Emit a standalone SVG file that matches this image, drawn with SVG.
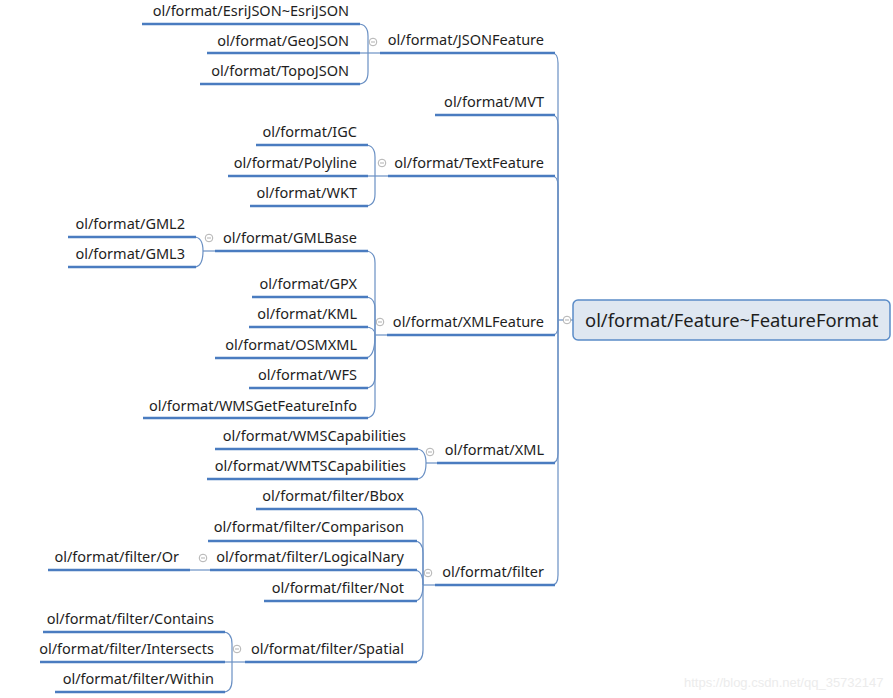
<svg xmlns="http://www.w3.org/2000/svg" width="893" height="698" viewBox="0 0 893 698">
<style>
.t{font-family:"Noto Sans","Open Sans","DejaVu Sans",sans-serif;font-size:14.5px;fill:#1e1e1e;text-anchor:end}
.u{stroke:#4a7cc0;stroke-width:2.6;fill:none;stroke-linecap:butt}
.c{stroke:#6a90c4;stroke-width:1.2;fill:none}
.k{fill:#fff;stroke:#a8a8a8;stroke-width:0.9}
.km{stroke:#a8a8a8;stroke-width:0.9}
.root{fill:#dfe7f1;stroke:#5b8cc8;stroke-width:1.5}
.rt{font-family:"Noto Sans","Open Sans","DejaVu Sans",sans-serif;font-size:18.4px;fill:#1e1e1e}
.wm{font-family:"Liberation Sans",Arial,sans-serif;font-size:13px;fill:#ececec}
</style>
<defs>
<g id="col"><circle r="3.8" class="k"/><line x1="-2" y1="0" x2="2" y2="0" class="km"/></g>
</defs>
<rect width="893" height="698" fill="#fff"/>
<g id="connectors">
<!-- root -->
<path class="c" d="M558 320 H573"/>
<path class="c" d="M558 320 V63 Q558 53 552 53"/>
<path class="c" d="M558 320 V125 Q558 115 552 115"/>
<path class="c" d="M558 320 V186 Q558 176 552 176"/>
<path class="c" d="M558 320 V327 Q558 335 552 335"/>
<path class="c" d="M558 320 V453 Q558 463 552 463"/>
<path class="c" d="M558 320 V575 Q558 585 552 585"/>
<!-- JSONFeature -->
<path class="c" d="M360 53 H380"/>
<path class="c" d="M368 53 V36 Q368 24 358 24"/>
<path class="c" d="M368 53 V72 Q368 84 358 84"/>
<!-- TextFeature -->
<path class="c" d="M368 176 H388"/>
<path class="c" d="M375 176 V157 Q375 145 365 145"/>
<path class="c" d="M375 176 V194 Q375 206 365 206"/>
<!-- XMLFeature -->
<path class="c" d="M375 335 H387"/>
<path class="c" d="M375 335 V263 Q375 251 365 251"/>
<path class="c" d="M375 335 V309 Q375 297 365 297"/>
<path class="c" d="M375 335 Q375 327 365 327"/>
<path class="c" d="M375 335 Q375 358 365 358"/>
<path class="c" d="M375 335 V376 Q375 388 365 388"/>
<path class="c" d="M375 335 V406 Q375 418 365 418"/>
<!-- GMLBase -->
<path class="c" d="M203 251 H215"/>
<path class="c" d="M203 251 Q203 237 194 237"/>
<path class="c" d="M203 251 Q203 267 194 267"/>
<!-- XML -->
<path class="c" d="M426 463 H437"/>
<path class="c" d="M426 463 Q426 449 416 449"/>
<path class="c" d="M426 463 Q426 479 416 479"/>
<!-- filter -->
<path class="c" d="M423 585 H435"/>
<path class="c" d="M423 585 V521 Q423 509 414 509"/>
<path class="c" d="M423 585 V553 Q423 541 414 541"/>
<path class="c" d="M423 585 Q423 570 414 570"/>
<path class="c" d="M423 585 Q423 601 414 601"/>
<path class="c" d="M423 585 V650 Q423 662 414 662"/>
<!-- LogicalNary -->
<path class="c" d="M190 570 H210"/>
<!-- Spatial -->
<path class="c" d="M225 662 H245"/>
<path class="c" d="M232 662 V644 Q232 632 223 632"/>
<path class="c" d="M232 662 V680 Q232 692 223 692"/>
</g>

<g id="root">
<rect class="root" x="573" y="300" width="317" height="40" rx="5"/>
<text class="rt" x="585" y="327">ol/format/Feature~FeatureFormat</text>
<use href="#col" x="567" y="320"/>
</g>

<g id="n-JSONFeature"><line class="u" x1="380" y1="53" x2="555" y2="53"/><text class="t" x="544" y="45">ol/format/JSONFeature</text><use href="#col" x="373" y="42"/></g>
<g id="n-MVT"><line class="u" x1="435" y1="115" x2="555" y2="115"/><text class="t" x="544" y="107">ol/format/MVT</text></g>
<g id="n-TextFeature"><line class="u" x1="388" y1="176" x2="555" y2="176"/><text class="t" x="544" y="168">ol/format/TextFeature</text><use href="#col" x="382" y="163"/></g>
<g id="n-XMLFeature"><line class="u" x1="387" y1="335" x2="555" y2="335"/><text class="t" x="544" y="327">ol/format/XMLFeature</text><use href="#col" x="380" y="322"/></g>
<g id="n-XML"><line class="u" x1="437" y1="463" x2="555" y2="463"/><text class="t" x="544" y="455">ol/format/XML</text><use href="#col" x="430" y="452"/></g>
<g id="n-filter"><line class="u" x1="435" y1="585" x2="555" y2="585"/><text class="t" x="544" y="577">ol/format/filter</text><use href="#col" x="428" y="573"/></g>

<g id="n-EsriJSON"><line class="u" x1="142" y1="24" x2="360" y2="24"/><text class="t" x="349" y="16">ol/format/EsriJSON~EsriJSON</text></g>
<g id="n-GeoJSON"><line class="u" x1="207" y1="53" x2="360" y2="53"/><text class="t" x="349" y="46">ol/format/GeoJSON</text></g>
<g id="n-TopoJSON"><line class="u" x1="200" y1="84" x2="360" y2="84"/><text class="t" x="349" y="76">ol/format/TopoJSON</text></g>

<g id="n-IGC"><line class="u" x1="256" y1="145" x2="368" y2="145"/><text class="t" x="357" y="137">ol/format/IGC</text></g>
<g id="n-Polyline"><line class="u" x1="228" y1="176" x2="368" y2="176"/><text class="t" x="357" y="168">ol/format/Polyline</text></g>
<g id="n-WKT"><line class="u" x1="250" y1="206" x2="368" y2="206"/><text class="t" x="357" y="198">ol/format/WKT</text></g>

<g id="n-GMLBase"><line class="u" x1="215" y1="251" x2="368" y2="251"/><text class="t" x="357" y="243">ol/format/GMLBase</text><use href="#col" x="209" y="238"/></g>
<g id="n-GPX"><line class="u" x1="252" y1="297" x2="368" y2="297"/><text class="t" x="357" y="289">ol/format/GPX</text></g>
<g id="n-KML"><line class="u" x1="249" y1="327" x2="368" y2="327"/><text class="t" x="357" y="319">ol/format/KML</text></g>
<g id="n-OSMXML"><line class="u" x1="215" y1="358" x2="368" y2="358"/><text class="t" x="357" y="350">ol/format/OSMXML</text></g>
<g id="n-WFS"><line class="u" x1="249" y1="388" x2="368" y2="388"/><text class="t" x="357" y="380">ol/format/WFS</text></g>
<g id="n-WMSGetFeatureInfo"><line class="u" x1="143" y1="418" x2="368" y2="418"/><text class="t" x="357" y="411">ol/format/WMSGetFeatureInfo</text></g>

<g id="n-GML2"><line class="u" x1="68" y1="237" x2="196" y2="237"/><text class="t" x="185" y="229">ol/format/GML2</text></g>
<g id="n-GML3"><line class="u" x1="68" y1="267" x2="196" y2="267"/><text class="t" x="185" y="259">ol/format/GML3</text></g>

<g id="n-WMSCapabilities"><line class="u" x1="215" y1="449" x2="418" y2="449"/><text class="t" x="406" y="441">ol/format/WMSCapabilities</text></g>
<g id="n-WMTSCapabilities"><line class="u" x1="207" y1="479" x2="418" y2="479"/><text class="t" x="406" y="471">ol/format/WMTSCapabilities</text></g>

<g id="n-Bbox"><line class="u" x1="256" y1="509" x2="417" y2="509"/><text class="t" x="404" y="501">ol/format/filter/Bbox</text></g>
<g id="n-Comparison"><line class="u" x1="208" y1="541" x2="417" y2="541"/><text class="t" x="404" y="532">ol/format/filter/Comparison</text></g>
<g id="n-LogicalNary"><line class="u" x1="210" y1="570" x2="417" y2="570"/><text class="t" x="404" y="562">ol/format/filter/LogicalNary</text><use href="#col" x="203" y="558"/></g>
<g id="n-Not"><line class="u" x1="264" y1="601" x2="417" y2="601"/><text class="t" x="404" y="593">ol/format/filter/Not</text></g>
<g id="n-Spatial"><line class="u" x1="245" y1="662" x2="417" y2="662"/><text class="t" x="404" y="654">ol/format/filter/Spatial</text><use href="#col" x="237" y="649"/></g>

<g id="n-Or"><line class="u" x1="48" y1="570" x2="190" y2="570"/><text class="t" x="179" y="562">ol/format/filter/Or</text></g>

<g id="n-Contains"><line class="u" x1="43" y1="632" x2="225" y2="632"/><text class="t" x="214" y="624">ol/format/filter/Contains</text></g>
<g id="n-Intersects"><line class="u" x1="40" y1="662" x2="225" y2="662"/><text class="t" x="214" y="654">ol/format/filter/Intersects</text></g>
<g id="n-Within"><line class="u" x1="55" y1="692" x2="225" y2="692"/><text class="t" x="214" y="684">ol/format/filter/Within</text></g>

<text class="wm" x="684" y="687">https://blog.csdn.net/qq_35732147</text>
</svg>
